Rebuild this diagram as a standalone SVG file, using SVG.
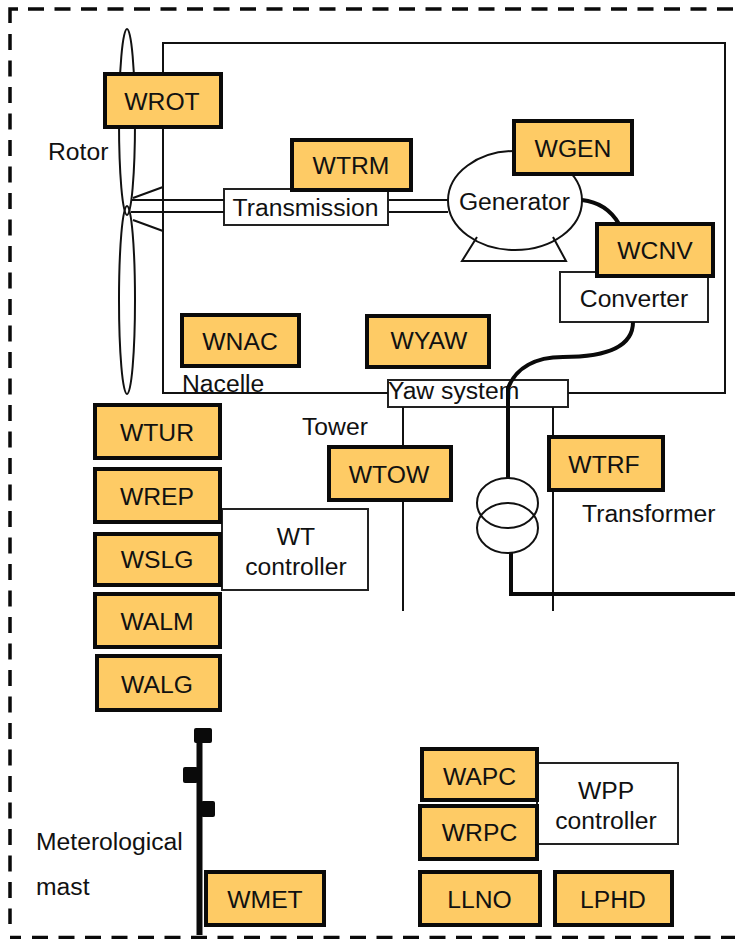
<svg xmlns="http://www.w3.org/2000/svg" width="735" height="939" viewBox="0 0 735 939">
<style>
text{font-family:"Liberation Sans",Arial,sans-serif;font-size:24.7px;fill:#111}
.c{text-anchor:middle}
.n rect{fill:#fecb65;stroke:#0a0a0a;stroke-width:4}
.b{fill:#fff;stroke:#222;stroke-width:2}
.l{fill:none;stroke:#111;stroke-width:2}
.h{fill:none;stroke:#0a0a0a;stroke-width:4}
.d{fill:none;stroke:#0a0a0a;stroke-width:3.5}
</style>
<g id="frame">
<path class="d" d="M10 23V9H18M10 937.500H21"/>
<path class="d" d="M28 9H735" stroke-dasharray="16 10.500"/>
<path class="d" d="M10 34V924" stroke-dasharray="16 10.500"/>
<path class="d" d="M32 937.500H735" stroke-dasharray="16 10.500"/>
</g>
<g id="generator"><ellipse cx="515" cy="200.500" rx="67" ry="49.500" fill="#fff" stroke="#111" stroke-width="2"/><text x="514.500" y="210" class="c">Generator</text></g>
<g id="transmission"><rect class="b" x="224" y="189" width="164" height="36"/><text x="305.500" y="216" class="c">Transmission</text></g>
<g id="converter"><rect class="b" x="560" y="272" width="148" height="50"/><text x="634" y="307" class="c">Converter</text></g>
<g id="yaw"><rect class="b" x="388" y="380" width="180" height="27"/><text x="388" y="399">Yaw system</text></g>
<g id="wtcontroller"><rect class="b" x="222" y="509" width="146" height="81"/><text x="296" y="545" class="c">WT</text><text x="296" y="575" class="c">controller</text></g>
<g id="wppcontroller"><rect class="b" x="537" y="763" width="141" height="81"/><text x="606" y="799" class="c">WPP</text><text x="606" y="829" class="c">controller</text></g>
<g id="connectors">
<path class="l" d="M163 88V43H725V393H568M388 393H163V127"/>
<ellipse class="l" cx="127" cy="122" rx="8" ry="93"/>
<ellipse class="l" cx="127" cy="300" rx="8" ry="94"/>
<path class="l" d="M133 198L163 187M133 220L163 231M131 200H224M131 212H224M389 200H448M389 212H448"/>
<path class="l" d="M477 237L462 261H566L553 237"/>
<path class="h" d="M582 200C600 202 612 212 619 224M633 322C633 345 610 357 563 357C535 357 516 368 508 388V478"/>
<path class="l" d="M403 407V611M553 407V611"/>
<path class="h" d="M511 553V594H735"/>
<path d="M199.500 728V935" fill="none" stroke="#0a0a0a" stroke-width="6"/>
<rect x="194" y="728" width="18" height="15" rx="2" fill="#0a0a0a"/>
<rect x="183" y="767" width="15" height="16" rx="2" fill="#0a0a0a"/>
<rect x="201" y="801" width="14" height="16" rx="2" fill="#0a0a0a"/>
</g>
<g id="transformer"><ellipse cx="507.500" cy="503" rx="30.500" ry="25" class="l"/><ellipse cx="507.500" cy="528" rx="30.500" ry="25" class="l"/></g>
<g id="WROT" class="n"><rect x="105" y="74" width="116" height="53"/><text x="162" y="109.500" class="c">WROT</text></g>
<g id="WTRM" class="n"><rect x="292" y="140" width="119" height="50"/><text x="351" y="174" class="c">WTRM</text></g>
<g id="WGEN" class="n"><rect x="514" y="121" width="118" height="53"/><text x="573" y="157" class="c">WGEN</text></g>
<g id="WCNV" class="n"><rect x="597" y="224" width="116" height="52"/><text x="655" y="259" class="c">WCNV</text></g>
<g id="WNAC" class="n"><rect x="182" y="315" width="117" height="51"/><text x="240" y="350" class="c">WNAC</text></g>
<g id="WYAW" class="n"><rect x="367" y="316" width="122" height="51"/><text x="429" y="349" class="c">WYAW</text></g>
<g id="WTUR" class="n"><rect x="95" y="405" width="125" height="53"/><text x="157" y="441" class="c">WTUR</text></g>
<g id="WREP" class="n"><rect x="95" y="469" width="125" height="53"/><text x="157" y="505" class="c">WREP</text></g>
<g id="WSLG" class="n"><rect x="95" y="534" width="125" height="51"/><text x="157" y="568" class="c">WSLG</text></g>
<g id="WALM" class="n"><rect x="95" y="594" width="125" height="53"/><text x="157" y="630" class="c">WALM</text></g>
<g id="WALG" class="n"><rect x="97" y="656" width="123" height="54"/><text x="157" y="693" class="c">WALG</text></g>
<g id="WTOW" class="n"><rect x="329" y="447" width="122" height="53"/><text x="389" y="483" class="c">WTOW</text></g>
<g id="WTRF" class="n"><rect x="549" y="437" width="114" height="53"/><text x="604" y="473" class="c">WTRF</text></g>
<g id="WAPC" class="n"><rect x="422" y="749" width="115" height="51"/><text x="479.500" y="785" class="c">WAPC</text></g>
<g id="WRPC" class="n"><rect x="420" y="806" width="117" height="53"/><text x="479.500" y="841" class="c">WRPC</text></g>
<g id="LLNO" class="n"><rect x="420" y="872" width="120" height="53"/><text x="479.500" y="908" class="c">LLNO</text></g>
<g id="LPHD" class="n"><rect x="555" y="872" width="117" height="53"/><text x="613" y="908" class="c">LPHD</text></g>
<g id="WMET" class="n"><rect x="206" y="872" width="118" height="53"/><text x="265" y="908" class="c">WMET</text></g>
<g id="labels">
<text x="48" y="160">Rotor</text>
<text x="182" y="392">Nacelle</text>
<text x="302" y="435">Tower</text>
<text x="582" y="522">Transformer</text>
<text x="36" y="850">Meterological</text>
<text x="36" y="895">mast</text>
</g>
</svg>
